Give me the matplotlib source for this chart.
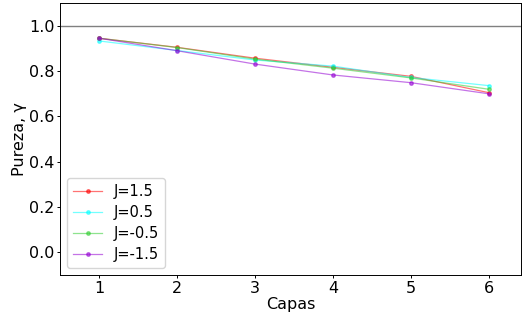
import matplotlib.pyplot as plt
import numpy as np

capas = [1, 2, 3, 4, 5, 6]
labels = ["J=1.5", "J=0.5", "J=-0.5", "J=-1.5"]
pureza = [
    [0.944, 0.904, 0.856, 0.816, 0.776, 0.704],
    [0.932, 0.890, 0.848, 0.821, 0.771, 0.735],
    [0.944, 0.903, 0.852, 0.812, 0.769, 0.719],
    [0.944, 0.889, 0.830, 0.782, 0.748, 0.699],
]
colors = ["red", "cyan", "limegreen", "darkviolet"]

fig = plt.figure(figsize=(5.23, 3.2), dpi=100)
ax = fig.add_axes([0.115, 0.141, 0.882, 0.85])

ax.axhline(1.0, color="gray", linewidth=1)
for vals, lab, c in zip(pureza, labels, colors):
    ax.plot(capas, vals, color=c, marker="o", markersize=2.5, linewidth=0.9, alpha=0.55,
            markerfacecolor=c, markeredgecolor=c, label=lab)

ax.set_xlim(0.5, 6.42)
ax.set_ylim(-0.1, 1.1)
ax.set_xticks(capas)
ax.set_yticks(np.arange(0, 1.01, 0.2))
ax.tick_params(labelsize=11.5, length=2.2, width=0.7, pad=2)
for s in ax.spines.values():
    s.set_linewidth(0.7)
ax.set_xlabel("Capas", fontsize=11.5, labelpad=1)
ax.set_ylabel("Pureza, γ", fontsize=11.5, labelpad=1)
ax.legend(loc="lower left", fontsize=10.5, handlelength=2.0, labelspacing=0.4)

fig.savefig("out.png", dpi=100)
